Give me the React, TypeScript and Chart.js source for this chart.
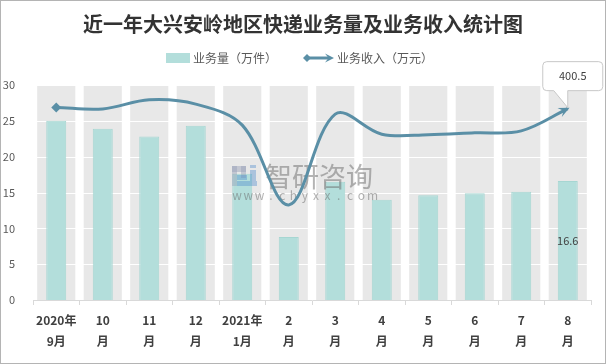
import React, { useEffect, useRef } from 'react';
import { Chart, registerables } from 'chart.js';

Chart.register(...registerables);

const categories: string[][] = [
  ['2020年', '9月'], ['10', '月'], ['11', '月'], ['12', '月'], ['2021年', '1月'], ['2', '月'],
  ['3', '月'], ['4', '月'], ['5', '月'], ['6', '月'], ['7', '月'], ['8', '月'],
];
const volume = [25.0, 23.9, 22.8, 24.3, 17.6, 8.8, 16.5, 14.0, 14.6, 14.9, 15.1, 16.6];
const revenue = [403, 400, 419, 410, 366, 199, 389, 347, 346, 350, 354, 400.5];
const backdrop = [30, 30, 30, 30, 30, 30, 30, 30, 30, 30, 30, 30];
const yTicks = [0, 5, 10, 15, 20, 25, 30];

const TITLE = '近一年大兴安岭地区快递业务量及业务收入统计图';
const LEGEND_BAR = '业务量（万件）';
const LEGEND_LINE = '业务收入（万元）';
const FONT = '"Noto Sans CJK SC", "Noto Sans", sans-serif';
const LINE_COLOR = '#5A8FA6';
const BAR_COLOR = '#B3DEDB';
const BAR_BORDER = '#A6D6D2';
const GRAY = '#E8E8E8';

function drawArrow(ctx: CanvasRenderingContext2D, x: number, y: number, dx: number, dy: number, len: number, half: number) {
  const l = Math.hypot(dx, dy) || 1;
  const ux = dx / l, uy = dy / l;
  const nx = -uy, ny = ux;
  const bx = x - ux * len, by = y - uy * len;
  ctx.beginPath();
  ctx.moveTo(x, y);
  ctx.lineTo(bx + nx * half, by + ny * half);
  ctx.lineTo(x - ux * len * 0.6, y - uy * len * 0.6);
  ctx.lineTo(bx - nx * half, by - ny * half);
  ctx.closePath();
  ctx.fill();
}

const customPlugin = {
  id: 'customDecor',
  afterDatasetDraw(chart: any, args: any) {
    const { ctx, chartArea, scales } = chart;
    if (args.index === 0) {
      ctx.save();
      ctx.strokeStyle = '#FFFFFF';
      ctx.lineWidth = 1;
      yTicks.forEach((v) => {
        if (v === 0) return;
        const py = Math.round(scales.y.getPixelForValue(v)) + 0.5;
        ctx.beginPath();
        ctx.moveTo(chartArea.left, py);
        ctx.lineTo(chartArea.right, py);
        ctx.stroke();
      });
      ctx.restore();
    }
    if (args.index === 1) {
      // watermark
      ctx.save();
      ctx.fillStyle = 'rgba(150,160,185,0.45)';
      ctx.fillRect(231, 165, 14, 6);
      ctx.fillRect(231, 165, 5, 20);
      ctx.fillRect(240, 165, 5, 12);
      ctx.fillStyle = 'rgba(80,140,205,0.4)';
      ctx.fillRect(236, 174, 10, 5);
      ctx.fillRect(236, 180, 20, 5);
      ctx.fillRect(249, 169, 6, 11);
      ctx.fillRect(249, 164, 6, 3);
      ctx.fillStyle = 'rgba(105,105,105,0.5)';
      ctx.font = `27px ${FONT}`;
      ctx.textBaseline = 'middle';
      ctx.textAlign = 'left';
      ctx.fillText('智研咨询', 264, 176);
      ctx.font = `12px ${FONT}`;
      ctx.textAlign = 'center';
      const wm = 'www.chyxx.com';
      for (let i = 0; i < wm.length; i++) {
        ctx.fillText(wm[i], 236 + i * 11.3, 194);
      }
      ctx.restore();
    }
  },
  afterDraw(chart: any) {
    const { ctx } = chart;
    ctx.save();
    // title
    ctx.fillStyle = '#333333';
    ctx.font = `bold 20px ${FONT}`;
    ctx.textAlign = 'center';
    ctx.textBaseline = 'middle';
    ctx.fillText(TITLE, 302, 23);

    // legend
    ctx.font = `12px ${FONT}`;
    ctx.textAlign = 'left';
    ctx.fillStyle = BAR_COLOR;
    ctx.fillRect(165, 52, 24, 10);
    ctx.fillStyle = '#595959';
    ctx.fillText(LEGEND_BAR, 192, 57);
    ctx.strokeStyle = LINE_COLOR;
    ctx.fillStyle = LINE_COLOR;
    ctx.lineWidth = 3;
    ctx.beginPath();
    ctx.moveTo(306, 57);
    ctx.lineTo(328, 57);
    ctx.stroke();
    ctx.beginPath();
    ctx.moveTo(302, 57);
    ctx.lineTo(306, 53);
    ctx.lineTo(310, 57);
    ctx.lineTo(306, 61);
    ctx.closePath();
    ctx.fill();
    drawArrow(ctx, 333, 57, 1, 0, 9, 4.5);
    ctx.fillStyle = '#595959';
    ctx.fillText(LEGEND_LINE, 336, 57);

    // arrow at line end
    const lineMeta = chart.getDatasetMeta(2);
    const pts = lineMeta.data;
    const last = pts[pts.length - 1];
    const dx = last.x - (last.cp1x ?? pts[pts.length - 2].x);
    const dy = last.y - (last.cp1y ?? pts[pts.length - 2].y);
    ctx.fillStyle = LINE_COLOR;
    const l = Math.hypot(dx, dy) || 1;
    drawArrow(ctx, last.x + (dx / l) * 2, last.y + (dy / l) * 2, dx, dy, 11, 5);

    // callout for last revenue point
    const px = last.x, py = last.y;
    const bottom = py - 18;
    const top = bottom - 29;
    const left = px - 25;
    const right = px + 35;
    const r = 4;
    ctx.beginPath();
    ctx.moveTo(left + r, top);
    ctx.lineTo(right - r, top);
    ctx.quadraticCurveTo(right, top, right, top + r);
    ctx.lineTo(right, bottom - r);
    ctx.quadraticCurveTo(right, bottom, right - r, bottom);
    ctx.lineTo(px, bottom);
    ctx.lineTo(px, py - 1);
    ctx.lineTo(px - 14, bottom);
    ctx.lineTo(left + r, bottom);
    ctx.quadraticCurveTo(left, bottom, left, bottom - r);
    ctx.lineTo(left, top + r);
    ctx.quadraticCurveTo(left, top, left + r, top);
    ctx.closePath();
    ctx.fillStyle = '#FFFFFF';
    ctx.fill();
    ctx.strokeStyle = '#C8C8C8';
    ctx.lineWidth = 1;
    ctx.stroke();
    ctx.fillStyle = '#404040';
    ctx.font = `11px ${FONT}`;
    ctx.textAlign = 'center';
    ctx.fillText(String(revenue[revenue.length - 1]), px + 5, (top + bottom) / 2);

    // data label on last bar
    const barMeta = chart.getDatasetMeta(1);
    const lb = barMeta.data[barMeta.data.length - 1];
    ctx.fillText(String(volume[volume.length - 1]), lb.x, (lb.y + lb.base) / 2);
    ctx.restore();
  },
};

export default function App() {
  const canvasRef = useRef<HTMLCanvasElement | null>(null);

  useEffect(() => {
    document.body.style.margin = '0';
    const canvas = canvasRef.current;
    if (!canvas) return;
    const chart = new Chart(canvas, {
      type: 'bar',
      data: {
        labels: categories,
        datasets: [
          {
            type: 'bar',
            data: backdrop,
            backgroundColor: GRAY,
            borderWidth: 0,
            barPercentage: 0.82,
            categoryPercentage: 1,
            grouped: false,
            order: 3,
            yAxisID: 'y',
          } as any,
          {
            type: 'bar',
            label: LEGEND_BAR,
            data: volume,
            backgroundColor: BAR_COLOR,
            borderColor: BAR_BORDER,
            borderWidth: 1,
            barPercentage: 0.43,
            categoryPercentage: 1,
            grouped: false,
            order: 2,
            yAxisID: 'y',
          } as any,
          {
            type: 'line',
            label: LEGEND_LINE,
            data: revenue,
            borderColor: LINE_COLOR,
            backgroundColor: LINE_COLOR,
            borderWidth: 3,
            tension: 0.35,
            pointStyle: 'rectRot',
            pointRadius: revenue.map((_, i) => (i === 0 ? 5 : 0)),
            pointBorderWidth: 0,
            order: 1,
            yAxisID: 'y1',
          } as any,
        ],
      },
      options: {
        responsive: false,
        animation: false,
        devicePixelRatio: 1,
        layout: { padding: { top: 84, right: 14, bottom: 0, left: 0 } },
        plugins: {
          legend: { display: false },
          title: { display: false },
          tooltip: { enabled: false },
        },
        scales: {
          x: {
            offset: true,
            grid: {
              display: true,
              drawOnChartArea: false,
              drawTicks: true,
              tickLength: 5,
              color: '#D9D9D9',
              offset: true,
            },
            border: { display: true, color: '#D9D9D9' },
            ticks: {
              color: '#404040',
              font: { family: FONT, size: 12, weight: 'bold', lineHeight: 1.75 },
              padding: 5,
              maxRotation: 0,
              autoSkip: false,
            },
            afterFit: (s: any) => {
              s.height = 63;
            },
          },
          y: {
            min: 0,
            max: 30,
            ticks: {
              stepSize: 5,
              color: '#595959',
              font: { family: FONT, size: 11 },
              padding: 10,
            },
            grid: { display: false },
            border: { display: false },
            afterFit: (s: any) => {
              s.width = 32;
            },
          },
          y1: {
            display: false,
            min: 0,
            max: 450,
          },
        },
      } as any,
      plugins: [customPlugin],
    });
    return () => chart.destroy();
  }, []);

  return (
    <div
      style={{
        width: 606,
        height: 364,
        boxSizing: 'border-box',
        border: '1px solid #B4B4B4',
        background: '#FFFFFF',
        overflow: 'hidden',
      }}
    >
      <canvas ref={canvasRef} width={604} height={362} style={{ display: 'block', width: 604, height: 362 }} />
    </div>
  );
}
